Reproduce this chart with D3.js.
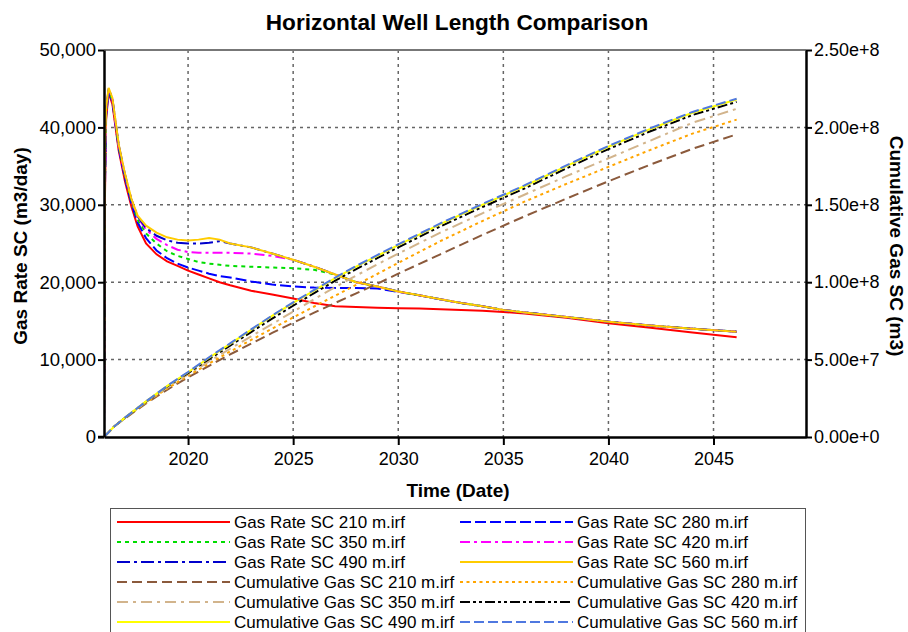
<!DOCTYPE html>
<html><head><meta charset="utf-8">
<script src="https://cdn.jsdelivr.net/npm/d3@7"></script>
<style>
html,body{margin:0;padding:0;background:#fff;}
svg{display:block;font-family:Arial,"Liberation Sans",sans-serif;}
</style></head>
<body><svg id="c" width="908" height="632"></svg>
<script>
// ---------- DATA ----------
const rateYears = [2016.0, 2016.04, 2016.1, 2016.22, 2016.4, 2016.7, 2017.0, 2017.3, 2017.6, 2018.0, 2018.5, 2019, 2019.5, 2020, 2020.5, 2021, 2021.5, 2022, 2023, 2024, 2025, 2026, 2027, 2028, 2029, 2030, 2031, 2032, 2033, 2034, 2035, 2036, 2038, 2040, 2042, 2044, 2046.1];
const rate210 = [0, 30000, 41000, 44500, 43000, 37000, 33000, 29800, 27200, 25000, 23600, 22700, 22100, 21500, 21000, 20500, 20000, 19600, 18900, 18400, 17900, 17300, 16900, 16800, 16700, 16650, 16600, 16500, 16400, 16300, 16150, 15950, 15400, 14700, 14100, 13500, 12900];
const rate280 = [0, 31000, 41500, 44700, 43300, 37300, 33400, 30200, 27700, 25700, 24100, 23100, 22400, 21900, 21500, 21100, 20800, 20600, 20100, 19700, 19450, 19300, 19250, 19250, 19200, 18750, 18300, 17800, 17300, 16900, 16400, 16100, 15500, 14900, 14400, 14000, 13600];
const rate350 = [0, 32000, 41800, 44800, 43500, 37500, 33700, 30500, 28100, 26300, 25000, 24000, 23400, 23000, 22600, 22400, 22250, 22100, 22000, 21900, 21800, 21600, 21000, 20000, 19450, 18800, 18300, 17800, 17300, 16900, 16400, 16100, 15500, 14900, 14400, 14000, 13600];
const rate420 = [0, 33000, 42000, 44900, 43600, 37600, 33800, 30700, 28400, 26800, 25600, 24800, 24200, 23900, 23800, 23800, 23800, 23800, 23700, 23400, 22900, 22000, 21000, 20000, 19450, 18800, 18300, 17800, 17300, 16900, 16400, 16100, 15500, 14900, 14400, 14000, 13600];
const rate490 = [0, 34000, 42200, 45000, 43700, 37700, 33900, 30700, 28500, 27000, 26000, 25400, 25100, 25000, 25000, 25100, 25300, 25000, 24500, 23700, 22900, 22000, 21000, 20000, 19450, 18800, 18300, 17800, 17300, 16900, 16400, 16100, 15500, 14900, 14400, 14000, 13600];
const rate560 = [0, 36000, 42500, 45100, 43800, 37800, 34000, 30800, 28600, 27300, 26400, 25800, 25500, 25400, 25500, 25700, 25500, 25000, 24500, 23700, 22900, 22000, 21000, 20000, 19450, 18800, 18300, 17800, 17300, 16900, 16400, 16100, 15500, 14900, 14400, 14000, 13600];

const cumYears = [2016, 2016.5, 2017, 2018, 2019, 2020, 2021, 2022, 2023, 2024, 2025, 2026, 2027, 2028, 2029, 2030, 2032, 2034, 2036, 2038, 2040, 2042, 2044, 2046.1];
const cum210 = [0, 0.7e7, 1.2e7, 2.17e7, 3.05e7, 3.85e7, 4.6e7, 5.33e7, 6.03e7, 6.72e7, 7.38e7, 8.03e7, 8.66e7, 9.28e7, 9.9e7, 1.055e8, 1.18e8, 1.305e8, 1.425e8, 1.54e8, 1.652e8, 1.76e8, 1.862e8, 1.955e8];
const cum280 = [0, 0.7e7, 1.22e7, 2.22e7, 3.13e7, 3.95e7, 4.75e7, 5.52e7, 6.27e7, 7.0e7, 7.72e7, 8.43e7, 9.13e7, 9.83e7, 1.053e8, 1.125e8, 1.265e8, 1.395e8, 1.52e8, 1.635e8, 1.745e8, 1.855e8, 1.96e8, 2.05e8];
const cum350 = [0, 0.7e7, 1.23e7, 2.25e7, 3.2e7, 4.05e7, 4.88e7, 5.7e7, 6.5e7, 7.3e7, 8.1e7, 8.9e7, 9.68e7, 1.043e8, 1.115e8, 1.185e8, 1.32e8, 1.445e8, 1.565e8, 1.685e8, 1.80e8, 1.915e8, 2.03e8, 2.12e8];
const cum420 = [0, 0.7e7, 1.24e7, 2.28e7, 3.26e7, 4.13e7, 5.03e7, 5.9e7, 6.78e7, 7.65e7, 8.48e7, 9.3e7, 1.01e8, 1.085e8, 1.155e8, 1.225e8, 1.36e8, 1.485e8, 1.605e8, 1.735e8, 1.86e8, 1.975e8, 2.08e8, 2.165e8];
const cum490 = [0, 0.7e7, 1.25e7, 2.3e7, 3.29e7, 4.18e7, 5.12e7, 6.02e7, 6.92e7, 7.82e7, 8.66e7, 9.46e7, 1.026e8, 1.1e8, 1.17e8, 1.24e8, 1.375e8, 1.5e8, 1.62e8, 1.75e8, 1.875e8, 1.99e8, 2.095e8, 2.18e8];
const cum560 = [0, 0.7e7, 1.25e7, 2.3e7, 3.3e7, 4.2e7, 5.15e7, 6.05e7, 6.95e7, 7.85e7, 8.7e7, 9.5e7, 1.03e8, 1.105e8, 1.175e8, 1.245e8, 1.38e8, 1.505e8, 1.625e8, 1.755e8, 1.88e8, 1.995e8, 2.1e8, 2.185e8];

const xTicks = [2020, 2025, 2030, 2035, 2040, 2045];
const leftTicks = [0, 10000, 20000, 30000, 40000, 50000];
const leftTickLabels = ["0", "10,000", "20,000", "30,000", "40,000", "50,000"];
const rightTicks = [0, 5e7, 1e8, 1.5e8, 2e8, 2.5e8];
const rightTickLabels = ["0.00e+0", "5.00e+7", "1.00e+8", "1.50e+8", "2.00e+8", "2.50e+8"];

const seriesNames = ["Gas Rate SC 210 m.irf", "Gas Rate SC 280 m.irf", "Gas Rate SC 350 m.irf", "Gas Rate SC 420 m.irf", "Gas Rate SC 490 m.irf", "Gas Rate SC 560 m.irf",
  "Cumulative Gas SC 210 m.irf", "Cumulative Gas SC 280 m.irf", "Cumulative Gas SC 350 m.irf", "Cumulative Gas SC 420 m.irf", "Cumulative Gas SC 490 m.irf", "Cumulative Gas SC 560 m.irf"];

// ---------- STYLES ----------
const styles = [
  {color:"#ff0000", dash:null},
  {color:"#0000ff", dash:"11,4"},
  {color:"#00dd00", dash:"4,4"},
  {color:"#ff00ff", dash:"10,4,3,4"},
  {color:"#0000cc", dash:"13,4,3,4"},
  {color:"#ffcc00", dash:null},
  {color:"#8b5a3c", dash:"10,5"},
  {color:"#ffa500", dash:"3,3.5"},
  {color:"#d2b48c", dash:"11,5,3,5"},
  {color:"#000000", dash:"10,3,3,3,3,3"},
  {color:"#ffff00", dash:null},
  {color:"#4f78e0", dash:"10,4"}
];

const rateSeries = [rate210, rate280, rate350, rate420, rate490, rate560];
const cumSeries = [cum210, cum280, cum350, cum420, cum490, cum560];

// ---------- LAYOUT ----------
const L = 104, R = 806, T = 50, B = 437;
const svg = d3.select("#c");
const x = d3.scaleLinear().domain([2016, 2049.4]).range([L, R]);
const yL = d3.scaleLinear().domain([0, 50000]).range([B, T]);
const yR = d3.scaleLinear().domain([0, 2.5e8]).range([B, T]);

svg.append("defs").append("clipPath").attr("id","clip")
  .append("rect").attr("x", L).attr("y", T).attr("width", R - L).attr("height", B - T);

// grid
const grid = svg.append("g");
xTicks.forEach(v => grid.append("line").attr("x1", x(v)).attr("x2", x(v)).attr("y1", T).attr("y2", B)
  .attr("stroke", "#666").attr("stroke-width", 1.5).attr("stroke-dasharray", "3,4"));
leftTicks.slice(1, -1).forEach(v => grid.append("line").attr("x1", L).attr("x2", R).attr("y1", yL(v)).attr("y2", yL(v))
  .attr("stroke", "#666").attr("stroke-width", 1.5).attr("stroke-dasharray", "3,4"));

// top border
svg.append("line").attr("x1", L).attr("x2", R).attr("y1", T).attr("y2", T).attr("stroke", "#777").attr("stroke-width", 2);

// lines
const plot = svg.append("g").attr("clip-path", "url(#clip)");
rateSeries.forEach((s, i) => {
  const line = d3.line().x((d, j) => x(rateYears[j])).y(d => yL(d));
  plot.append("path").datum(s).attr("d", line).attr("fill", "none")
    .attr("stroke", styles[i].color).attr("stroke-width", 2)
    .attr("stroke-dasharray", styles[i].dash);
});
cumSeries.forEach((s, i) => {
  const line = d3.line().x((d, j) => x(cumYears[j])).y(d => yR(d));
  plot.append("path").datum(s).attr("d", line).attr("fill", "none")
    .attr("stroke", styles[i + 6].color).attr("stroke-width", 2)
    .attr("stroke-dasharray", styles[i + 6].dash);
});

// axes
const fs = 18;
const axL = svg.append("g").attr("transform", `translate(${L},0)`)
  .call(d3.axisLeft(yL).tickValues(leftTicks).tickFormat((d, i) => leftTickLabels[i]).tickSize(6).tickSizeOuter(0));
const axR = svg.append("g").attr("transform", `translate(${R},0)`)
  .call(d3.axisRight(yR).tickValues(rightTicks).tickFormat((d, i) => rightTickLabels[i]).tickSize(6).tickSizeOuter(0));
const axB = svg.append("g").attr("transform", `translate(0,${B})`)
  .call(d3.axisBottom(x).tickValues(xTicks).tickFormat(d3.format("d")).tickSize(8).tickSizeOuter(0));
[axL, axR, axB].forEach(a => {
  a.select(".domain").attr("stroke", "#000").attr("stroke-width", 2.5);
  a.selectAll(".tick line").attr("stroke", "#000").attr("stroke-width", 2);
  a.selectAll("text").attr("font-size", fs).attr("fill", "#000").attr("font-family", "Arial, 'Liberation Sans', sans-serif");
});
axL.selectAll("text").attr("x", -8).attr("font-size", 18.5);
axR.selectAll("text").attr("x", 8);
axB.selectAll("text").attr("y", 15);
// extend bottom axis slightly left
svg.append("line").attr("x1", L - 6).attr("x2", L).attr("y1", B).attr("y2", B).attr("stroke", "#000").attr("stroke-width", 2.5);

// titles
svg.append("text").attr("x", 457).attr("y", 30).attr("text-anchor", "middle")
  .attr("font-size", 22.6).attr("font-weight", "bold").text("Horizontal Well Length Comparison");
svg.append("text").attr("x", 458).attr("y", 497).attr("text-anchor", "middle")
  .attr("font-size", 19).attr("font-weight", "bold").text("Time (Date)");
svg.append("text").attr("transform", `translate(27,246) rotate(-90)`).attr("text-anchor", "middle")
  .attr("font-size", 19).attr("font-weight", "bold").text("Gas Rate SC (m3/day)");
svg.append("text").attr("transform", `translate(890,246) rotate(90)`).attr("text-anchor", "middle")
  .attr("font-size", 19).attr("font-weight", "bold").text("Cumulative Gas SC (m3)");

// legend
const lg = svg.append("g");
lg.append("rect").attr("x", 110.5).attr("y", 508.5).attr("width", 695).attr("height", 140)
  .attr("fill", "#fff").attr("stroke", "#555").attr("stroke-width", 1);
seriesNames.forEach((name, i) => {
  const col = i % 2, row = Math.floor(i / 2);
  const order = col === 0 ? [0, 2, 4, 6, 8, 10][row] : [1, 3, 5, 7, 9, 11][row];
  const x0 = col === 0 ? 117 : 460;
  const yy = 522 + row * 20;
  lg.append("line").attr("x1", x0).attr("x2", x0 + 113).attr("y1", yy).attr("y2", yy)
    .attr("stroke", styles[order].color).attr("stroke-width", 2).attr("stroke-dasharray", styles[order].dash);
  lg.append("text").attr("x", x0 + 117).attr("y", yy + 6).attr("font-size", 17).text(seriesNames[order]);
});
</script>
</body></html>
